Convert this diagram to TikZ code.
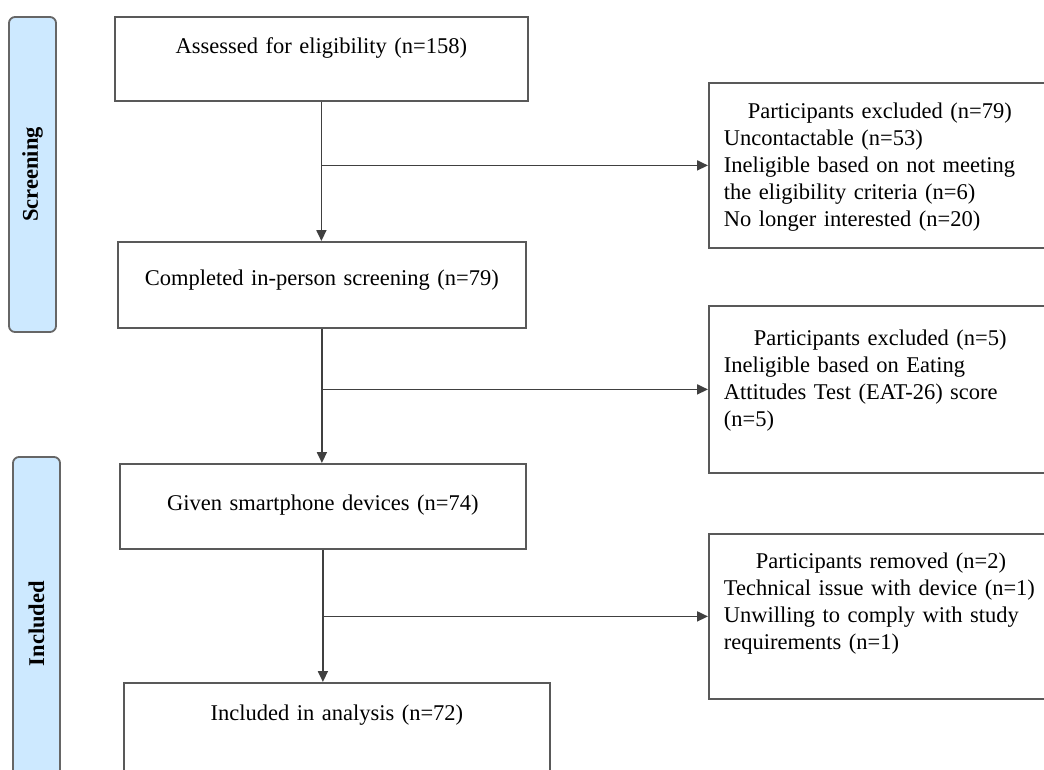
\documentclass[tikz,border=0pt]{standalone}
\usepackage{fontspec}
\setmainfont{Liberation Serif}
\usetikzlibrary{arrows.meta}
\definecolor{phaseblue}{RGB}{205,233,255}

\begin{document}
\begin{tikzpicture}[x=1pt,y=-1pt, % 1 unit = 1 pixel of the flow chart
	font=\fontsize{22.5}{27}\selectfont,
	box/.style={draw=black!65,line width=1.8pt,anchor=north west,inner sep=0pt,align=center},
	sidebox/.style={draw=black!65,line width=1.8pt,anchor=north west,inner xsep=15pt,inner ysep=0pt,text width=330pt,align=left},
	phase/.style={draw=black!60,line width=1.8pt,fill=phaseblue,rounded corners=6pt,rotate=90,inner sep=0pt,minimum height=47pt,font=\fontsize{22.5}{27}\selectfont\bfseries},
	arrow/.style={draw=black!75,line width=1.8pt,-{Triangle[length=11pt,width=10pt]}}]
					\useasboundingbox[fill=white] (0,0) rectangle (1044,769);
					\clip (0,0) rectangle (1044,769);

					\node[phase,minimum width=315pt] (screening) at (32.5,174.5) {Screening};
					\node[phase,minimum width=333pt] (included) at (36.5,623.5) {Included};

					\node[box,text width=413pt,text height=37pt,text depth=47pt] (assess) at (114,16) {Assessed for eligibility (n=158)};
					\node[box,text width=408pt,text height=44pt,text depth=42pt] (screen) at (117,241) {Completed in-person screening (n=79)};
					\node[box,text width=406pt,text height=47pt,text depth=38pt] (given) at (119,463) {Given smartphone devices (n=74)};
					\node[box,text width=426pt,text height=38pt,text depth=72pt] (analysis) at (123,682) {Included in analysis (n=72)};

					\node[sidebox,text height=36pt,text depth=129pt] (excl1) at (708,82) {\hspace*{24pt}Participants excluded (n=79)\\Uncontactable (n=53)\\Ineligible based on not meeting\\the eligibility criteria (n=6)\\No longer interested (n=20)};
					\node[sidebox,text height=40pt,text depth=127pt] (excl2) at (708,305) {\hspace*{30pt}Participants excluded (n=5)\\Ineligible based on Eating\\Attitudes Test (EAT-26) score\\(n=5)};
					\node[sidebox,text height=35pt,text depth=130pt] (removed) at (708,533) {\hspace*{32pt}Participants removed (n=2)\\Technical issue with device (n=1)\\Unwilling to comply with study\\requirements (n=1)};

					\draw[arrow] (assess.south) -- (assess.south |- screen.north);
					\draw[arrow] (assess.south |- excl1.west) -- (excl1.west);
					\draw[arrow] (screen.south) -- (screen.south |- given.north);
					\draw[arrow] (screen.south |- excl2.west) -- (excl2.west);
					\draw[arrow] (given.south) -- (given.south |- analysis.north);
					\draw[arrow] (given.south |- removed.west) -- (removed.west);
				\end{tikzpicture}
\end{document}
